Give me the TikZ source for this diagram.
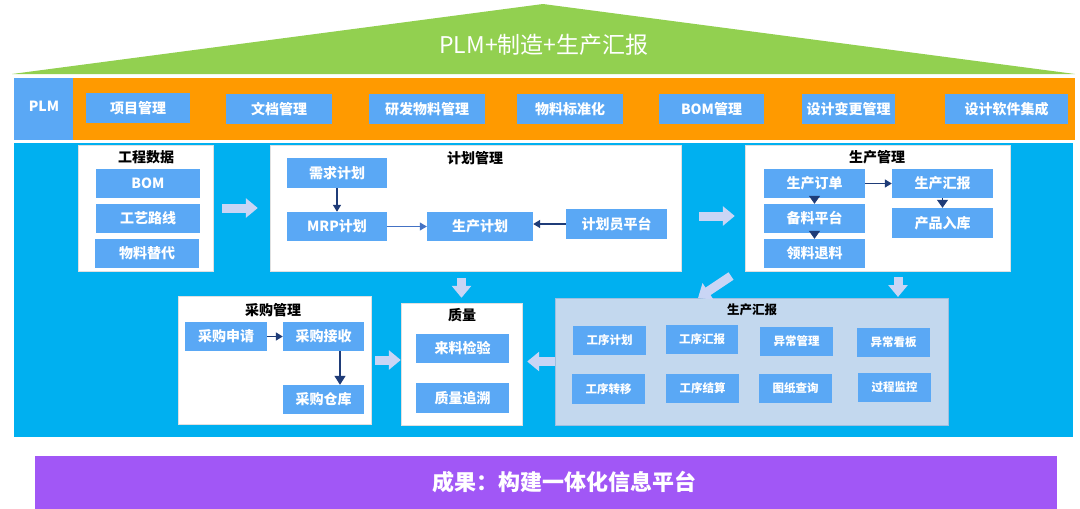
\documentclass[tikz,border=0pt]{standalone}
\usepackage{fontspec}
\setmainfont{Noto Sans CJK SC}
\usetikzlibrary{arrows.meta,shadows}
\definecolor{roofgreen}{HTML}{92D050}
\definecolor{barorange}{HTML}{FF9A00}
\definecolor{btnblue}{HTML}{5AA8F5}
\definecolor{mainblue}{HTML}{00B0F0}
\definecolor{panelgrey}{HTML}{C3D8EE}
\definecolor{panelline}{HTML}{9EBFE0}
\definecolor{fatarrow}{HTML}{C9D5F5}
\definecolor{navy}{HTML}{1F3C78}
\definecolor{midblue}{HTML}{4472C4}
\definecolor{resultpurple}{HTML}{A157F6}
\newcommand\mybox[7]{\node[#6, minimum width={((#4)-(#2))*1pt}, minimum height={((#5)-(#3))*1pt}] (#1) at ({((#2)+(#4))/2},{((#3)+(#5))/2}) {#7};}
\tikzset{
 btn/.style={fill=btnblue, text=white, font=\fontsize{14}{16}\selectfont\bfseries, inner sep=0pt},
 smallbtn/.style={btn, font=\fontsize{11.5}{13}\selectfont\bfseries},
 whitebox/.style={fill=white, draw=white!88!black, line width=0.4pt, inner sep=0pt, drop shadow={shadow xshift=1.2pt, shadow yshift=-1.2pt, opacity=0.3}},
 panel/.style={fill=panelgrey, draw=panelline, line width=0.8pt, inner sep=0pt},
 boxtitle/.style={font=\fontsize{14}{16}\selectfont\bfseries, text=black, inner sep=0pt},
 fat/.style={draw=fatarrow, line width=9pt, -{Triangle[length=12pt,width=19pt]}},
 navyarrow/.style={draw=navy, line width=1.4pt, -{Triangle[length=7pt,width=8pt]}},
 midarrow/.style={draw=midblue, line width=1pt, -{Triangle[length=7pt,width=8pt]}},
 pointer/.style={draw=navy, line width=0.8pt, -{Triangle[length=8pt,width=11pt]}},
}
\begin{document}
\begin{tikzpicture}[x=1pt,y=-1pt]
\useasboundingbox (0,0) rectangle (1080,509);
\fill[white] (0,0) rectangle (1080,509);
% roof
\fill[roofgreen] (12,74) -- (543,4) -- (1075,74) -- cycle;
\node[text=white, font=\fontsize{23}{26}\selectfont, inner sep=0pt] (title) at (544,45) {PLM+制造+生产汇报};
% PLM bar
\fill[barorange] (14,78) rectangle (1075,140);
\mybox{plm}{14}{78}{73}{140}{btn}{}
\node[text=white, font=\fontsize{14}{16}\selectfont\bfseries, inner sep=0pt] (plmt) at (44,106) {PLM};
\mybox{b1}{86}{93}{190}{123}{btn}{项目管理}
\mybox{b2}{226}{94}{332}{124}{btn}{文档管理}
\mybox{b3}{369}{94}{485}{124}{btn}{研发物料管理}
\mybox{b4}{517}{94}{623}{124}{btn}{物料标准化}
\mybox{b5}{659}{94}{764}{124}{btn}{BOM管理}
\mybox{b6}{802}{94}{895}{124}{btn}{设计变更管理}
\mybox{b7}{945}{94}{1068}{124}{btn}{设计软件集成}
% main area
\fill[mainblue] (14,143) rectangle (1073,437);
% engineering data
\mybox{eng}{78}{145}{213}{271}{whitebox}{}
\node[boxtitle] (engt) at (146,157) {工程数据};
\mybox{bom}{96}{169}{200}{198}{btn}{BOM}
\mybox{route}{96}{204}{200}{233}{btn}{工艺路线}
\mybox{subst}{95}{239}{199}{268}{btn}{物料替代}
% planning
\mybox{plan}{270}{145}{681}{271}{whitebox}{}
\node[boxtitle] (plant) at (475,158) {计划管理};
\mybox{demand}{287}{158}{387}{188}{btn}{需求计划}
\mybox{mrp}{287}{212}{387}{241}{btn}{MRP计划}
\mybox{pplan}{427}{212}{533}{241}{btn}{生产计划}
\mybox{planner}{566}{209}{667}{239}{btn}{计划员平台}
% production management
\mybox{prod}{745}{145}{1010}{271}{whitebox}{}
\node[boxtitle] (prodt) at (877,157) {生产管理};
\mybox{order}{764}{169}{865}{198}{btn}{生产订单}
\mybox{prep}{764}{204}{865}{233}{btn}{备料平台}
\mybox{pick}{764}{239}{865}{268}{btn}{领料退料}
\mybox{prep2}{892}{169}{993}{198}{btn}{生产汇报}
\mybox{stock}{892}{208}{993}{238}{btn}{产品入库}
% purchasing
\mybox{purch}{178}{296}{371}{424}{whitebox}{}
\node[boxtitle] (purcht) at (273,310) {采购管理};
\mybox{req}{185}{322}{267}{351}{btn}{采购申请}
\mybox{recv}{283}{322}{364}{351}{btn}{采购接收}
\mybox{store}{283}{385}{364}{414}{btn}{采购仓库}
% quality
\mybox{qual}{401}{303}{522}{425}{whitebox}{}
\node[boxtitle] (qualt) at (462,315) {质量};
\mybox{inspect}{416}{334}{509}{363}{btn}{来料检验}
\mybox{trace}{416}{383}{509}{413}{btn}{质量追溯}
% production reporting panel
\mybox{rep}{555}{298}{948}{425}{panel}{}
\node[boxtitle, font=\fontsize{12.5}{14}\selectfont\bfseries] (rept) at (752,310) {生产汇报};
\mybox{r1}{573}{326}{646}{355}{smallbtn}{工序计划}
\mybox{r2}{666}{325}{738}{354}{smallbtn}{工序汇报}
\mybox{r3}{760}{327}{833}{356}{smallbtn}{异常管理}
\mybox{r4}{857}{328}{930}{357}{smallbtn}{异常看板}
\mybox{r5}{572}{374}{645}{404}{smallbtn}{工序转移}
\mybox{r6}{666}{374}{739}{403}{smallbtn}{工序结算}
\mybox{r7}{759}{374}{832}{403}{smallbtn}{图纸查询}
\mybox{r8}{858}{373}{931}{402}{smallbtn}{过程监控}
% fat arrows
\draw[fat] ([xshift=9pt]eng.east) -- ([xshift=-12pt]plan.west);
\draw[fat] ([xshift=18pt,yshift=-8pt]plan.east) -- ([xshift=-10pt,yshift=-8pt]prod.west);
\coordinate (q3a) at (qual.north |- plan.south);
\draw[fat] ([yshift=-7pt]q3a) -- ([yshift=5pt]qual.north);
\coordinate (d4a) at (731,276);
\coordinate (d4b) at (698,298);
\draw[fat] (d4a) -- (d4b);
\coordinate (d5a) at (898,277);
\coordinate (d5b) at (898,297);
\draw[fat] (d5a) -- (d5b);
\coordinate (q6) at (purch.east -| qual.west);
\draw[fat] ([xshift=4pt]purch.east) -- (q6);
\coordinate (q7) at (rep.west -| qual.east);
\draw[fat] (rep.west) -- ([xshift=5pt]q7);
% small arrows
\draw[navyarrow] (demand.south) -- (mrp.north);
\draw[midarrow] (mrp.east) -- (pplan.west);
\draw[navyarrow] (planner.west) -- (planner.west -| pplan.east);
\draw[navyarrow] (order.east) -- (order.east -| prep2.west);
\draw[pointer] (order.south) -- (prep.north);
\draw[pointer] (prep.south) -- (pick.north);
\draw[pointer] (prep2.south) -- (stock.north);
\draw[navyarrow] (req.east) -- (recv.west);
\coordinate (rs) at ([xshift=16.5pt]recv.south);
\draw[navyarrow, -{Triangle[length=9pt,width=11pt]}] (rs) -- (rs |- store.north);
% result
\mybox{result}{35}{456}{1057}{509}{fill=resultpurple, inner sep=0pt}{}
\node[text=white, font=\fontsize{22}{25}\selectfont\bfseries, inner sep=0pt] (resultt) at (564,482) {成果：构建一体化信息平台};
\end{tikzpicture}
\end{document}
